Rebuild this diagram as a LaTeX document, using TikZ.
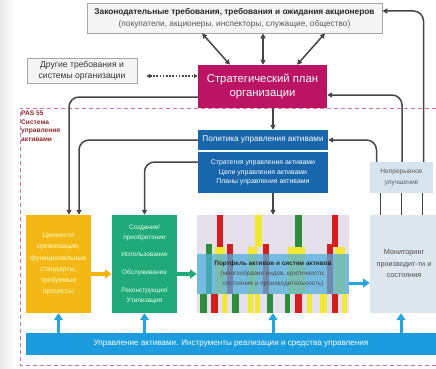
\documentclass[tikz,border=0pt]{standalone}
\usepackage{fontspec}
\setmainfont{Liberation Sans}
\usetikzlibrary{arrows.meta}
\newcommand{\fsz}[2]{\fontsize{#1}{#2}\selectfont}

\definecolor{linegray}{RGB}{70,70,70}
\definecolor{planred}{RGB}{188,20,100}
\definecolor{polblue}{RGB}{24,102,172}
\definecolor{valyellow}{RGB}{244,184,22}
\definecolor{lifegreen}{RGB}{32,170,124}
\definecolor{toolblue}{RGB}{26,156,222}
\definecolor{arrblue}{RGB}{40,164,220}
\definecolor{monbox}{RGB}{222,230,238}
\definecolor{impbox}{RGB}{214,228,240}
\definecolor{lavender}{RGB}{230,224,236}
\definecolor{overblue}{RGB}{80,175,220}
\definecolor{barred}{RGB}{212,30,30}
\definecolor{baryellow}{RGB}{240,232,50}
\definecolor{bargreen}{RGB}{46,140,60}
\definecolor{pasred}{RGB}{140,40,40}
\definecolor{framepink}{RGB}{214,110,160}

\begin{document}
\begin{tikzpicture}[x=1pt,y=-1pt,
    >={Triangle[length=5pt,width=5pt]},
    box/.style={inner sep=0pt,align=center},
    greybox/.style={box,draw=gray!70,fill=gray!8,line width=0.6pt},
    conn/.style={draw=linegray,line width=1.5pt,->,rounded corners=10pt},
    plainline/.style={draw=linegray,line width=1.5pt},
    dbl/.style={draw=linegray,line width=1.5pt,<->},
    dotarr/.style={draw=linegray,line width=1.1pt,dash pattern=on 1.6pt off 1.6pt,
        {Triangle[length=4pt,width=4pt]}-{Triangle[length=4pt,width=4pt]}},
    fatarr/.style={line width=3pt,-{Triangle[length=7pt,width=9pt]}}]
    \useasboundingbox (0,0) rectangle (436,369);
    \shade[left color=gray!18,right color=white] (0,0) rectangle (14,369);

    % Frame
    \draw[framepink,line width=0.8pt,dash pattern=on 4pt off 3pt]
        (436,108) -- (20,108) -- (20,365) -- (436,365);
    \node[box,anchor=north west,text=pasred,align=left,font=\fsz{6.6}{8.4}\bfseries] (pas) at (21,111)
        {PAS 55\\Система\\управления\\активами};

    % Top boxes
    \node[greybox,minimum width=295,minimum height=30,font=\fsz{8.3}{12}] (top) at (234.5,18)
        {\textcolor{black!85}{\textbf{Законодательные требования, требования и ожидания акционеров}}\\
         \textcolor{black!65}{(покупатели, акционеры, инспекторы, служащие, общество)}};
    \node[greybox,minimum width=110,minimum height=25,text=black!80,font=\fsz{8.6}{10.5}] (other) at (82,70.5)
        {Другие требования и\\системы организации};
    \node[box,fill=planred,text=white,minimum width=129,minimum height=43,font=\fsz{11.3}{14}] (plan) at (262.5,86.5)
        {Стратегический план\\организации};

    % Policy
    \node[box,fill=polblue,text=white,minimum width=130,minimum height=20,font=\fsz{8.2}{10}] (policy) at (263,140)
        {Политика управления активами};
    \node[box,fill=polblue,text=white,minimum width=130,minimum height=41,font=\fsz{6.9}{9.6}] (strategy) at (263,172.5)
        {Стратегия управления активами\\Цели управления активами\\Планы управления активами};

    % Middle row
    \node[box,fill=valyellow,text=yellow!25,minimum width=65,minimum height=98,font=\fsz{7}{11.2}] (values) at (58.5,264)
        {Ценности\\организации,\\функциональные\\стандарты,\\требуемые\\процессы};
    \node[box,fill=lifegreen,text=green!10,minimum width=65,minimum height=98,font=\fsz{6.5}{9.8}] (life) at (144.5,264)
        {Создание/\\приобретение\\[8pt]Использование\\[8pt]Обслуживание\\[8pt]Реконструкция/\\Утилизация};
    \node[box,fill=lavender,minimum width=152,minimum height=98] (portfolio) at (273,264) {};
    \foreach \xa/\xb/\ya/\yb/\c in {
        217/223/215/247/barred, 255/262/215/247/baryellow, 295/302/215/247/bargreen, 332/338/215/247/barred,
        206/212/244/294/bargreen, 215/225/247/294/baryellow, 227/233/244/294/barred, 248/257/247/294/baryellow,
        263/269/244/294/barred, 288/296/247/294/baryellow, 296/305/247/294/baryellow, 327/333/244/294/barred,
        335/345/247/294/baryellow,
        200/207/294/313/bargreen, 211/218/294/313/barred, 222/227/294/313/baryellow, 232/239/294/313/bargreen,
        248/253/294/313/baryellow, 255/260/294/313/baryellow, 267/273/294/313/bargreen, 285/290/294/313/bargreen,
        295/302/294/313/barred, 307/312/294/313/baryellow, 320/327/294/313/baryellow, 332/338/294/313/barred,
        342/347/294/313/baryellow}
        \fill[\c] (\xa,\ya) rectangle (\xb,\yb);
    \node[box,fill=overblue,fill opacity=0.75,text opacity=1,minimum width=152,minimum height=40,font=\fsz{6.4}{10.3}] (portext) at (273,274)
        {\textcolor{black!85}{\textbf{Портфель активов и систем активов}}\\
         \textcolor{black!70}{(многообразие видов, критичности,}\\\textcolor{black!70}{состояние и производительность)}};
    \node[box,fill=monbox,text=black!70,minimum width=68,minimum height=98,font=\fsz{7.3}{11.5}] (monitor) at (404,264)
        {Мониторинг\\производит-ти и\\состояния};
    \node[box,fill=impbox,text=black!65,minimum width=63,minimum height=31,font=\fsz{6.6}{10.5}] (improve) at (401.5,177.5)
        {Непрерывное\\улучшение};

    % Bottom bar
    \node[box,fill=toolblue,text=white,minimum width=410,minimum height=22,font=\fsz{8.1}{9}] (tools) at (231,344)
        {Управление активами. Инструменты реализации и средства управления};

    % Connectors
    \draw[dbl] ([xshift=-32.5]top.south) -- ([xshift=-32.5]plan.north);
    \draw[dbl] ([xshift=28.5]top.south) -- ([xshift=0.5]plan.north);
    \draw[dbl] ([xshift=90.5]top.south) -- ([xshift=34.5]plan.north);
    \draw[dotarr,shorten <=9pt] ([yshift=-5.5]other.east) -- ([yshift=-5.5]other.east -| plan.west);
    \draw[conn] ([xshift=10.5]plan.south) -- ([xshift=10]policy.north);
    \draw[conn] ([xshift=10]strategy.south) -- (portfolio.north);
    \draw[conn] ([yshift=-10.5]plan.west) -| ([xshift=10.5]values.north);
    \draw[conn] (policy.west) -| ([xshift=20.5]values.north);
    \draw[conn] ([yshift=10.5]strategy.west) -| (life.north);
    \foreach \dx in {-21,0,21}
        \draw[plainline] ([xshift=\dx]improve.south) -- ([xshift=\dx]improve.south |- monitor.north);
    \draw[conn] ([xshift=-25]improve.north) |- (policy.east);
    \draw[conn] ([xshift=0.5]improve.north) |- ([yshift=-8.5]plan.east);
    \draw[conn] ([xshift=22]improve.north) |- ([yshift=7]top.east);

    % Flow arrows
    \draw[fatarr,draw=valyellow!90!orange,line width=4pt] ([yshift=-10]values.east) -- ([yshift=-10]life.west);
    \draw[fatarr,draw=lifegreen,line width=4pt] ([yshift=-10]life.east) -- ([yshift=-10]life.east -| portfolio.west);
    \draw[fatarr,draw=arrblue] ([yshift=-9]portext.east) -- ([yshift=-9]portext.east -| monitor.west);
    \foreach \n/\dx in {values/0,life/0,portfolio/0,monitor/-3}
        \draw[fatarr,draw=arrblue] ([xshift=\dx]tools.north -| \n.south) -- ([xshift=\dx]\n.south);
\end{tikzpicture}
\end{document}
